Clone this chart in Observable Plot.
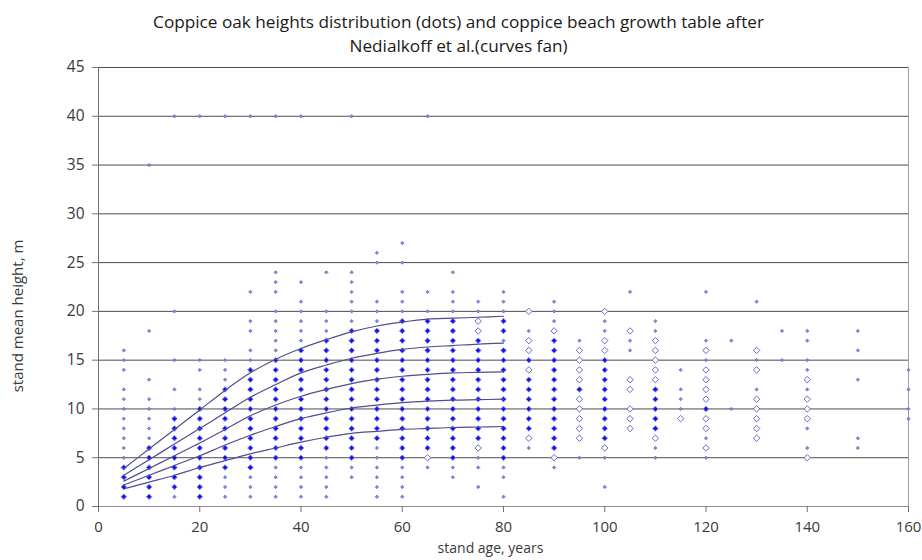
<!DOCTYPE html>
<html>
<head>
<meta charset="utf-8">
<script src="https://cdn.jsdelivr.net/npm/d3@7"></script>
<script src="https://cdn.jsdelivr.net/npm/@observablehq/plot@0.6"></script>
<style>
  body { margin: 0; background: #fff; }
  #chart svg { display: block; }
</style>
</head>
<body>
<div id="chart"></div>
<script>
// Heights (m) of coppice oak stands, by stand age (years).
// Each entry: [age, heights]; three marker classes by how often a height occurs.
const rareHeights = [
  [5, [5, 6, 7, 8, 9, 10, 11, 12, 14, 15, 16]],
  [10, [7, 8, 9, 10, 11, 13, 18, 35]],
  [15, [1, 10, 12, 15, 20, 40]],
  [20, [11, 12, 14, 15, 40]],
  [25, [1, 2, 3, 13, 14, 15, 40]],
  [30, [1, 2, 3, 15, 16, 18, 19, 22, 40]],
  [35, [1, 2, 3, 4, 16, 17, 18, 19, 20, 22, 23, 24, 40]],
  [40, [1, 2, 3, 4, 17, 18, 19, 20, 21, 23, 40]],
  [45, [1, 2, 3, 4, 5, 18, 19, 20, 24]],
  [50, [3, 4, 19, 20, 21, 22, 23, 24, 40]],
  [55, [1, 2, 3, 4, 5, 6, 19, 20, 21, 25, 26]],
  [60, [1, 2, 3, 4, 20, 21, 22, 25, 27]],
  [65, [4, 20, 22, 40]],
  [70, [3, 4, 20, 21, 22, 24]],
  [75, [2, 4, 5, 20, 21]],
  [80, [1, 3, 4, 17, 20, 21, 22]],
  [85, [6, 18]],
  [90, [4, 19, 20, 21]],
  [95, [5, 17]],
  [100, [2, 5, 18, 19]],
  [105, [16, 17, 22]],
  [110, [5, 6, 18, 19]],
  [115, [10, 11, 12, 14]],
  [120, [5, 7, 15, 17, 22]],
  [125, [10, 17]],
  [130, [12, 15, 21]],
  [135, [15, 18]],
  [140, [6, 8, 12, 14, 15, 17, 18]],
  [150, [6, 7, 13, 16, 18]],
  [160, [9, 10, 12, 14]]
];

const commonHeights = [
  [65, [5]],
  [75, [6, 18, 19]],
  [85, [7, 14, 16, 17, 20]],
  [90, [5, 18]],
  [95, [7, 8, 9, 10, 11, 13, 14, 15, 16]],
  [100, [6, 16, 17, 20]],
  [105, [8, 9, 10, 12, 13, 18]],
  [110, [7, 13, 14, 15, 16, 17]],
  [115, [9]],
  [120, [6, 8, 9, 11, 12, 13, 14, 16]],
  [130, [7, 8, 9, 10, 11, 14, 16]],
  [140, [5, 9, 10, 11, 13]]
];

const frequentHeights = [
  [5, [1, 2, 3, 4]],
  [10, [1, 2, 3, 4, 5, 6]],
  [15, [2, 3, 4, 5, 6, 7, 8, 9]],
  [20, [1, 2, 3, 4, 5, 6, 7, 8, 9, 10]],
  [25, [4, 5, 6, 7, 8, 9, 10, 11, 12]],
  [30, [4, 5, 6, 7, 8, 9, 10, 11, 12, 13, 14]],
  [35, [5, 6, 7, 8, 9, 10, 11, 12, 13, 14, 15]],
  [40, [5, 6, 7, 8, 9, 10, 11, 12, 13, 14, 15, 16]],
  [45, [6, 7, 8, 9, 10, 11, 12, 13, 14, 15, 16, 17]],
  [50, [5, 6, 7, 8, 9, 10, 11, 12, 13, 14, 15, 16, 17, 18]],
  [55, [7, 8, 9, 10, 11, 12, 13, 14, 15, 16, 17, 18]],
  [60, [5, 6, 7, 8, 9, 10, 11, 12, 13, 14, 15, 16, 17, 18, 19]],
  [65, [6, 7, 8, 9, 10, 11, 12, 13, 14, 15, 16, 17, 18, 19]],
  [70, [5, 6, 7, 8, 9, 10, 11, 12, 13, 14, 15, 16, 17, 18, 19]],
  [75, [7, 8, 9, 10, 11, 12, 13, 14, 15, 16, 17]],
  [80, [5, 6, 7, 8, 9, 10, 11, 12, 13, 14, 15, 16, 18, 19]],
  [85, [8, 9, 10, 11, 12, 13, 15]],
  [90, [6, 7, 8, 9, 10, 11, 12, 13, 14, 15, 16, 17]],
  [95, [12]],
  [100, [7, 8, 9, 10, 11, 12, 13, 14, 15]],
  [110, [8, 9, 10, 11, 12]],
  [120, [10]]
];

// Coppice beech growth table (Nedialkoff et al.): mean height by site class
const growthAges = [5, 10, 15, 20, 25, 30, 35, 40, 45, 50, 55, 60, 65, 70, 75, 80];
const siteClass1 = [3.9, 5.9, 7.9, 9.9, 11.9, 13.7, 15.1, 16.2, 17.1, 17.9, 18.5, 18.9, 19.2, 19.3, 19.4, 19.5];
const siteClass2 = [3.2, 4.8, 6.4, 8.0, 9.6, 11.2, 12.5, 13.7, 14.5, 15.2, 15.7, 16.1, 16.35, 16.5, 16.65, 16.75];
const siteClass3 = [2.6, 3.9, 5.2, 6.5, 7.9, 9.3, 10.4, 11.3, 12.0, 12.6, 13.05, 13.35, 13.55, 13.7, 13.75, 13.8];
const siteClass4 = [2.2, 3.2, 4.2, 5.2, 6.3, 7.3, 8.2, 9.0, 9.6, 10.1, 10.4, 10.65, 10.8, 10.9, 10.95, 11.0];
const siteClass5 = [1.8, 2.5, 3.2, 4.0, 4.7, 5.4, 6.0, 6.6, 7.1, 7.5, 7.7, 7.9, 8.0, 8.1, 8.15, 8.2];

const xTicks = [0, 20, 40, 60, 80, 100, 120, 140, 160];
const yTicks = [0, 5, 10, 15, 20, 25, 30, 35, 40, 45];

const titleLines = [
  "Coppice oak heights distribution (dots) and coppice beach growth table after",
  "Nedialkoff et al.(curves fan)"
];
const xTitle = "stand age, years";
const yTitle = "stand mean height, m";

// flatten [age, heights] groups into points
const toPoints = groups => groups.flatMap(([age, hs]) => hs.map(h => ({age, h})));
const curves = [siteClass1, siteClass2, siteClass3, siteClass4, siteClass5]
  .flatMap((vals, i) => vals.map((h, j) => ({cls: i + 1, age: growthAges[j], h})));

const font = "'Open Sans', 'Liberation Sans', sans-serif";

const chart = Plot.plot({
  width: 922,
  height: 560,
  marginTop: 67,
  marginBottom: 54,
  marginLeft: 98,
  marginRight: 14,
  style: {fontFamily: font, fontSize: "15px", color: "#3a3a3a", background: "#fff", overflow: "visible"},
  x: {domain: [0, 160], label: null},
  y: {domain: [0, 45], label: null},
  marks: [
    // horizontal gridlines
    Plot.ruleY(yTicks.filter(d => d > 0), {stroke: "#4d4d4d", strokeWidth: 1}),
    Plot.ruleX([160], {stroke: "#a0a0a0", strokeWidth: 1}),
    Plot.ruleY([0], {stroke: "#909090", strokeWidth: 1}),
    Plot.ruleX([0], {stroke: "#707070", strokeWidth: 1}),
    Plot.axisY({ticks: yTicks, tickSize: 6, tickPadding: 8, stroke: "#707070", fontSize: 15.5, label: null}),
    Plot.axisX({ticks: xTicks, tickSize: 6, tickPadding: 9, stroke: "#707070", fontSize: 15, label: null}),
    // stand heights
    Plot.dot(toPoints(rareHeights), {
      x: "age", y: "h", symbol: "diamond2", r: 1.5,
      fill: "#8a8ad8", stroke: "#6060c4", strokeWidth: 0.7
    }),
    Plot.dot(toPoints(commonHeights), {
      x: "age", y: "h", symbol: "diamond2", r: 2.9,
      fill: "#ffffff", stroke: "#6a6acc", strokeWidth: 1
    }),
    Plot.dot(toPoints(frequentHeights), {
      x: "age", y: "h", symbol: "diamond2", r: 2.5,
      fill: "#1414e8", stroke: "#8c8cf2", strokeWidth: 1
    }),
    // growth table curves
    Plot.line(curves, {
      x: "age", y: "h", z: "cls", stroke: "#4e4e8e", strokeWidth: 1.2, curve: "catmull-rom"
    }),
    // titles
    Plot.text([titleLines[0]], {frameAnchor: "top", dx: -45, dy: -52, fontSize: 17.2, fill: "#1a1a1a"}),
    Plot.text([titleLines[1]], {frameAnchor: "top", dx: -45, dy: -28, fontSize: 17.2, fill: "#1a1a1a"}),
    Plot.text([xTitle], {frameAnchor: "bottom", dx: -13, dy: 46, fontSize: 14, fill: "#3a3a3a"}),
    Plot.text([yTitle], {frameAnchor: "left", textAnchor: "middle", dx: -80, dy: 29, rotate: -90, fontSize: 15, fill: "#3a3a3a"})
  ]
});

document.getElementById("chart").appendChild(chart);
</script>
</body>
</html>
